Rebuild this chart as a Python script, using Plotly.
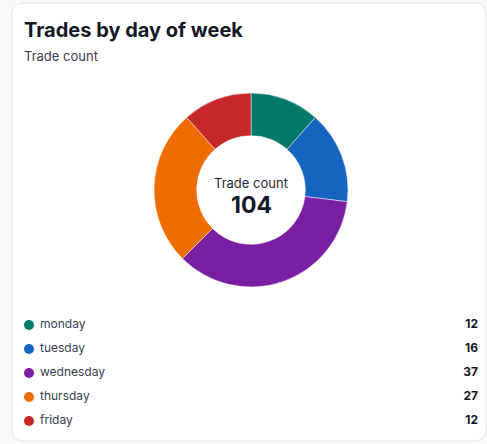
import plotly.graph_objects as go

# data
days = ["monday", "tuesday", "wednesday", "thursday", "friday"]
counts = [12, 16, 37, 27, 12]
colors = ["#00796b", "#1565c0", "#7b1fa2", "#ef6c00", "#c62828"]

title = "Trades by day of week"
subtitle = "Trade count"
center_label = "Trade count"

W, H = 487, 444
FONT = "Inter, 'Noto Sans', sans-serif"


def px_x(v):
    return v / W


def px_y(v):
    return 1 - v / H


def rounded_rect(x0, y0, x1, y1, r):
    # path in paper coords from pixel box
    rx, ry = r / W, r / H
    a, b, c, d = px_x(x0), px_y(y0), px_x(x1), px_y(y1)
    return (f"M {a + rx},{b} L {c - rx},{b} Q {c},{b} {c},{b - ry} "
            f"L {c},{d + ry} Q {c},{d} {c - rx},{d} "
            f"L {a + rx},{d} Q {a},{d} {a},{d + ry} "
            f"L {a},{b - ry} Q {a},{b} {a + rx},{b} Z")


# donut position (pixels)
cx, cy, r = 251, 190, 97

fig = go.Figure()

fig.add_trace(go.Pie(
    labels=days, values=counts, hole=0.56, sort=False, direction="clockwise",
    rotation=0, textinfo="none", hoverinfo="skip", showlegend=False,
    marker=dict(colors=colors, line=dict(color="rgba(255,255,255,0.6)", width=0.8)),
    domain=dict(x=[px_x(cx - r), px_x(cx + r)], y=[px_y(cy + r), px_y(cy - r)]),
))

# legend rows: dots + names
fig.add_trace(go.Scatter(
    x=[29] * len(days), y=days, mode="markers",
    marker=dict(color=colors, size=10),
    hoverinfo="skip", showlegend=False, cliponaxis=False,
))
fig.add_trace(go.Scatter(
    x=[40] * len(days), y=days, mode="text",
    text=days, textposition="middle right",
    textfont=dict(family=FONT, size=12, color="#374151"),
    hoverinfo="skip", showlegend=False, cliponaxis=False,
))
# legend values
fig.add_trace(go.Scatter(
    x=[478] * len(days), y=days, mode="text",
    text=[f"<b>{c}</b>" for c in counts], textposition="middle left",
    textfont=dict(family=FONT, size=12, color="#111827"),
    hoverinfo="skip", showlegend=False, cliponaxis=False,
))

fig.update_layout(
    width=W, height=H, margin=dict(l=0, r=0, t=0, b=0),
    paper_bgcolor="#f7f8fa", plot_bgcolor="rgba(0,0,0,0)",
    font=dict(family=FONT),
    xaxis=dict(range=[0, W], domain=[0, 1], visible=False, fixedrange=True),
    yaxis=dict(type="category", categoryorder="array", categoryarray=days,
               range=[4.5, -0.5], domain=[px_y(433), px_y(313)],
               visible=False, fixedrange=True),
    shapes=[dict(type="path", xref="paper", yref="paper",
                 path=rounded_rect(12, 3, 486, 441, 12),
                 fillcolor="white", line=dict(color="#e3e5ea", width=1), layer="below")],
    annotations=[
        dict(text=f"<b>{title}</b>", x=px_x(22), y=px_y(30), xref="paper", yref="paper",
             xanchor="left", yanchor="middle", showarrow=False,
             font=dict(family=FONT, size=20, color="#111827")),
        dict(text=subtitle, x=px_x(22), y=px_y(56), xref="paper", yref="paper",
             xanchor="left", yanchor="middle", showarrow=False,
             font=dict(family=FONT, size=13, color="#374151")),
        dict(text=center_label, x=px_x(cx), y=px_y(183), xref="paper", yref="paper",
             xanchor="center", yanchor="middle", showarrow=False,
             font=dict(family=FONT, size=13, color="#1f2937")),
        dict(text=f"<b>{sum(counts)}</b>", x=px_x(cx), y=px_y(205), xref="paper", yref="paper",
             xanchor="center", yanchor="middle", showarrow=False,
             font=dict(family=FONT, size=23, color="#111827")),
    ],
)

fig.write_html("out.html", config=dict(displayModeBar=False, staticPlot=True),
               post_script="document.body.style.margin='0';")
